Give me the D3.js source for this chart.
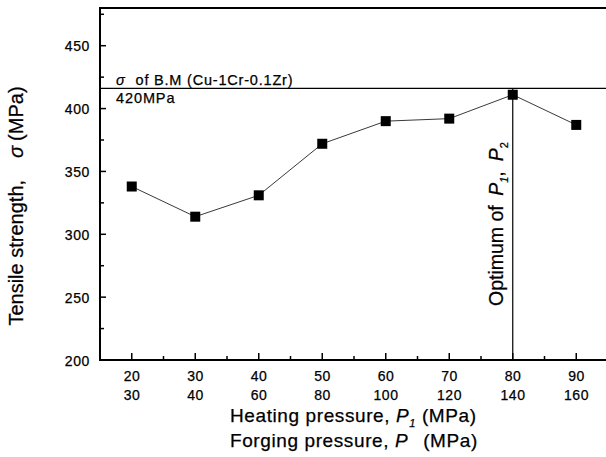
<!DOCTYPE html>
<html>
<head>
<meta charset="utf-8">
<script src="https://cdn.jsdelivr.net/npm/d3@7"></script>
<style>
  body { margin: 0; background: #fff; }
  svg { display: block; font-family: "Liberation Sans", Arial, Helvetica, sans-serif; }
  text { stroke: #000; stroke-width: 0.25; }
</style>
</head>
<body>
<svg id="chart" width="606" height="457"></svg>
<script>
// data
const heatingP = [20, 30, 40, 50, 60, 70, 80, 90];
const forgingP = [30, 40, 60, 80, 100, 120, 140, 160];
const strength = [338, 314, 331, 372, 390, 392, 411, 387];
const yTicks = [200, 250, 300, 350, 400, 450];
const baseMetal = 416;     // where the B.M line sits on the y scale
const optimumP = 80;

const svg = d3.select("#chart");
const mLeft = 100, mRight = 608, mTop = 8, mBottom = 360;

const x = d3.scaleLinear().domain([15, 95]).range([mLeft, mRight]);
const y = d3.scaleLinear().domain([200, 480]).range([mBottom, mTop]);

// frame: left, bottom, top
svg.append("line").attr("x1", mLeft).attr("x2", mLeft).attr("y1", mTop).attr("y2", mBottom)
  .attr("stroke", "#000").attr("stroke-width", 2);
svg.append("line").attr("x1", mLeft - 1).attr("x2", 606).attr("y1", mBottom).attr("y2", mBottom)
  .attr("stroke", "#000").attr("stroke-width", 2);
svg.append("line").attr("x1", mLeft - 1).attr("x2", 606).attr("y1", mTop).attr("y2", mTop)
  .attr("stroke", "#000").attr("stroke-width", 2);

// y ticks (inward)
const yMinor = d3.range(225, 480, 50);
svg.selectAll(".ytick").data(yTicks.slice(1)).enter().append("line")
  .attr("x1", mLeft).attr("x2", mLeft + 6)
  .attr("y1", d => y(d)).attr("y2", d => y(d))
  .attr("stroke", "#000").attr("stroke-width", 1.5);
svg.selectAll(".yminor").data(yMinor).enter().append("line")
  .attr("x1", mLeft).attr("x2", mLeft + 4)
  .attr("y1", d => y(d)).attr("y2", d => y(d))
  .attr("stroke", "#000").attr("stroke-width", 1.5);
svg.selectAll(".ylab").data(yTicks).enter().append("text")
  .attr("x", 90).attr("y", d => y(d) + 5.5)
  .attr("text-anchor", "end").attr("font-size", 14).attr("letter-spacing", 0.6)
  .text(d => d);

// x ticks (inward)
const xMinor = d3.range(25, 90, 10);
svg.selectAll(".xtick").data(heatingP).enter().append("line")
  .attr("x1", d => x(d)).attr("x2", d => x(d))
  .attr("y1", mBottom).attr("y2", mBottom - 7)
  .attr("stroke", "#000").attr("stroke-width", 1.5);
svg.selectAll(".xminor").data(xMinor).enter().append("line")
  .attr("x1", d => x(d)).attr("x2", d => x(d))
  .attr("y1", mBottom).attr("y2", mBottom - 4)
  .attr("stroke", "#000").attr("stroke-width", 1.5);
svg.selectAll(".xlab1").data(heatingP).enter().append("text")
  .attr("x", d => x(d) + 0.3).attr("y", mBottom + 21)
  .attr("text-anchor", "middle").attr("font-size", 14).attr("letter-spacing", 0.6)
  .text(d => d);
svg.selectAll(".xlab2").data(heatingP).enter().append("text")
  .attr("x", d => x(d) + 0.3).attr("y", mBottom + 40)
  .attr("text-anchor", "middle").attr("font-size", 14).attr("letter-spacing", 0.6)
  .text((d, i) => forgingP[i]);

// base metal reference line
svg.append("line").attr("x1", mLeft).attr("x2", 606)
  .attr("y1", y(baseMetal)).attr("y2", y(baseMetal))
  .attr("stroke", "#000").attr("stroke-width", 1.2);
const bm = svg.append("text").attr("x", 116).attr("y", y(baseMetal) - 3)
  .attr("font-size", 14.5).attr("letter-spacing", 0.8);
bm.append("tspan").attr("font-style", "italic").text("σ");
bm.append("tspan").attr("dx", 10).text("of B.M (Cu-1Cr-0.1Zr)");
svg.append("text").attr("x", 116).attr("y", y(baseMetal) + 15)
  .attr("font-size", 14.5).attr("letter-spacing", 0.9).text("420MPa");

// optimum marker line
svg.append("line").attr("x1", x(optimumP)).attr("x2", x(optimumP))
  .attr("y1", y(baseMetal)).attr("y2", mBottom)
  .attr("stroke", "#000").attr("stroke-width", 1.2);
const opt = svg.append("text")
  .attr("transform", `translate(${x(optimumP) - 10},${306}) rotate(-90)`)
  .attr("font-size", 19.5);
opt.append("tspan").text("Optimum of ");
opt.append("tspan").attr("font-style", "italic").attr("dx", 4).text("P");
opt.append("tspan").attr("font-style", "italic").attr("font-size", 11).attr("dy", 5).text("1");
opt.append("tspan").attr("dy", -5).text(",");
opt.append("tspan").attr("font-style", "italic").attr("dx", 10).text("P");
opt.append("tspan").attr("font-size", 11).attr("dy", 5).text("2");

// data line + markers
const pts = heatingP.map((p, i) => [p, strength[i]]);
svg.append("path").datum(pts)
  .attr("fill", "none").attr("stroke", "#222").attr("stroke-width", 0.9)
  .attr("d", d3.line().x(d => x(d[0])).y(d => y(d[1])));
svg.selectAll(".pt").data(pts).enter().append("rect")
  .attr("x", d => x(d[0]) - 5).attr("y", d => y(d[1]) - 5)
  .attr("width", 10).attr("height", 10).attr("fill", "#000");

// axis titles
const yt = svg.append("text")
  .attr("transform", "translate(23,206) rotate(-90)")
  .attr("text-anchor", "middle").attr("font-size", 20);
yt.append("tspan").text("Tensile strength,");
yt.append("tspan").attr("font-style", "italic").attr("dx", 22).text("σ");
yt.append("tspan").attr("dx", 5).text("(MPa)");

const xt1 = svg.append("text").attr("x", 230).attr("y", 422)
  .attr("font-size", 19).attr("letter-spacing", 0.6);
xt1.append("tspan").text("Heating pressure, ");
xt1.append("tspan").attr("font-style", "italic").text("P");
xt1.append("tspan").attr("font-style", "italic").attr("font-size", 11).attr("dy", 5).text("1");
xt1.append("tspan").attr("dy", -5).text(" (MPa)");

const xt2 = svg.append("text").attr("x", 230).attr("y", 447)
  .attr("font-size", 19).attr("letter-spacing", 0.6);
xt2.append("tspan").text("Forging pressure, ");
xt2.append("tspan").attr("font-style", "italic").text("P");
xt2.append("tspan").attr("dx", 9).text(" (MPa)");
</script>
</body>
</html>
